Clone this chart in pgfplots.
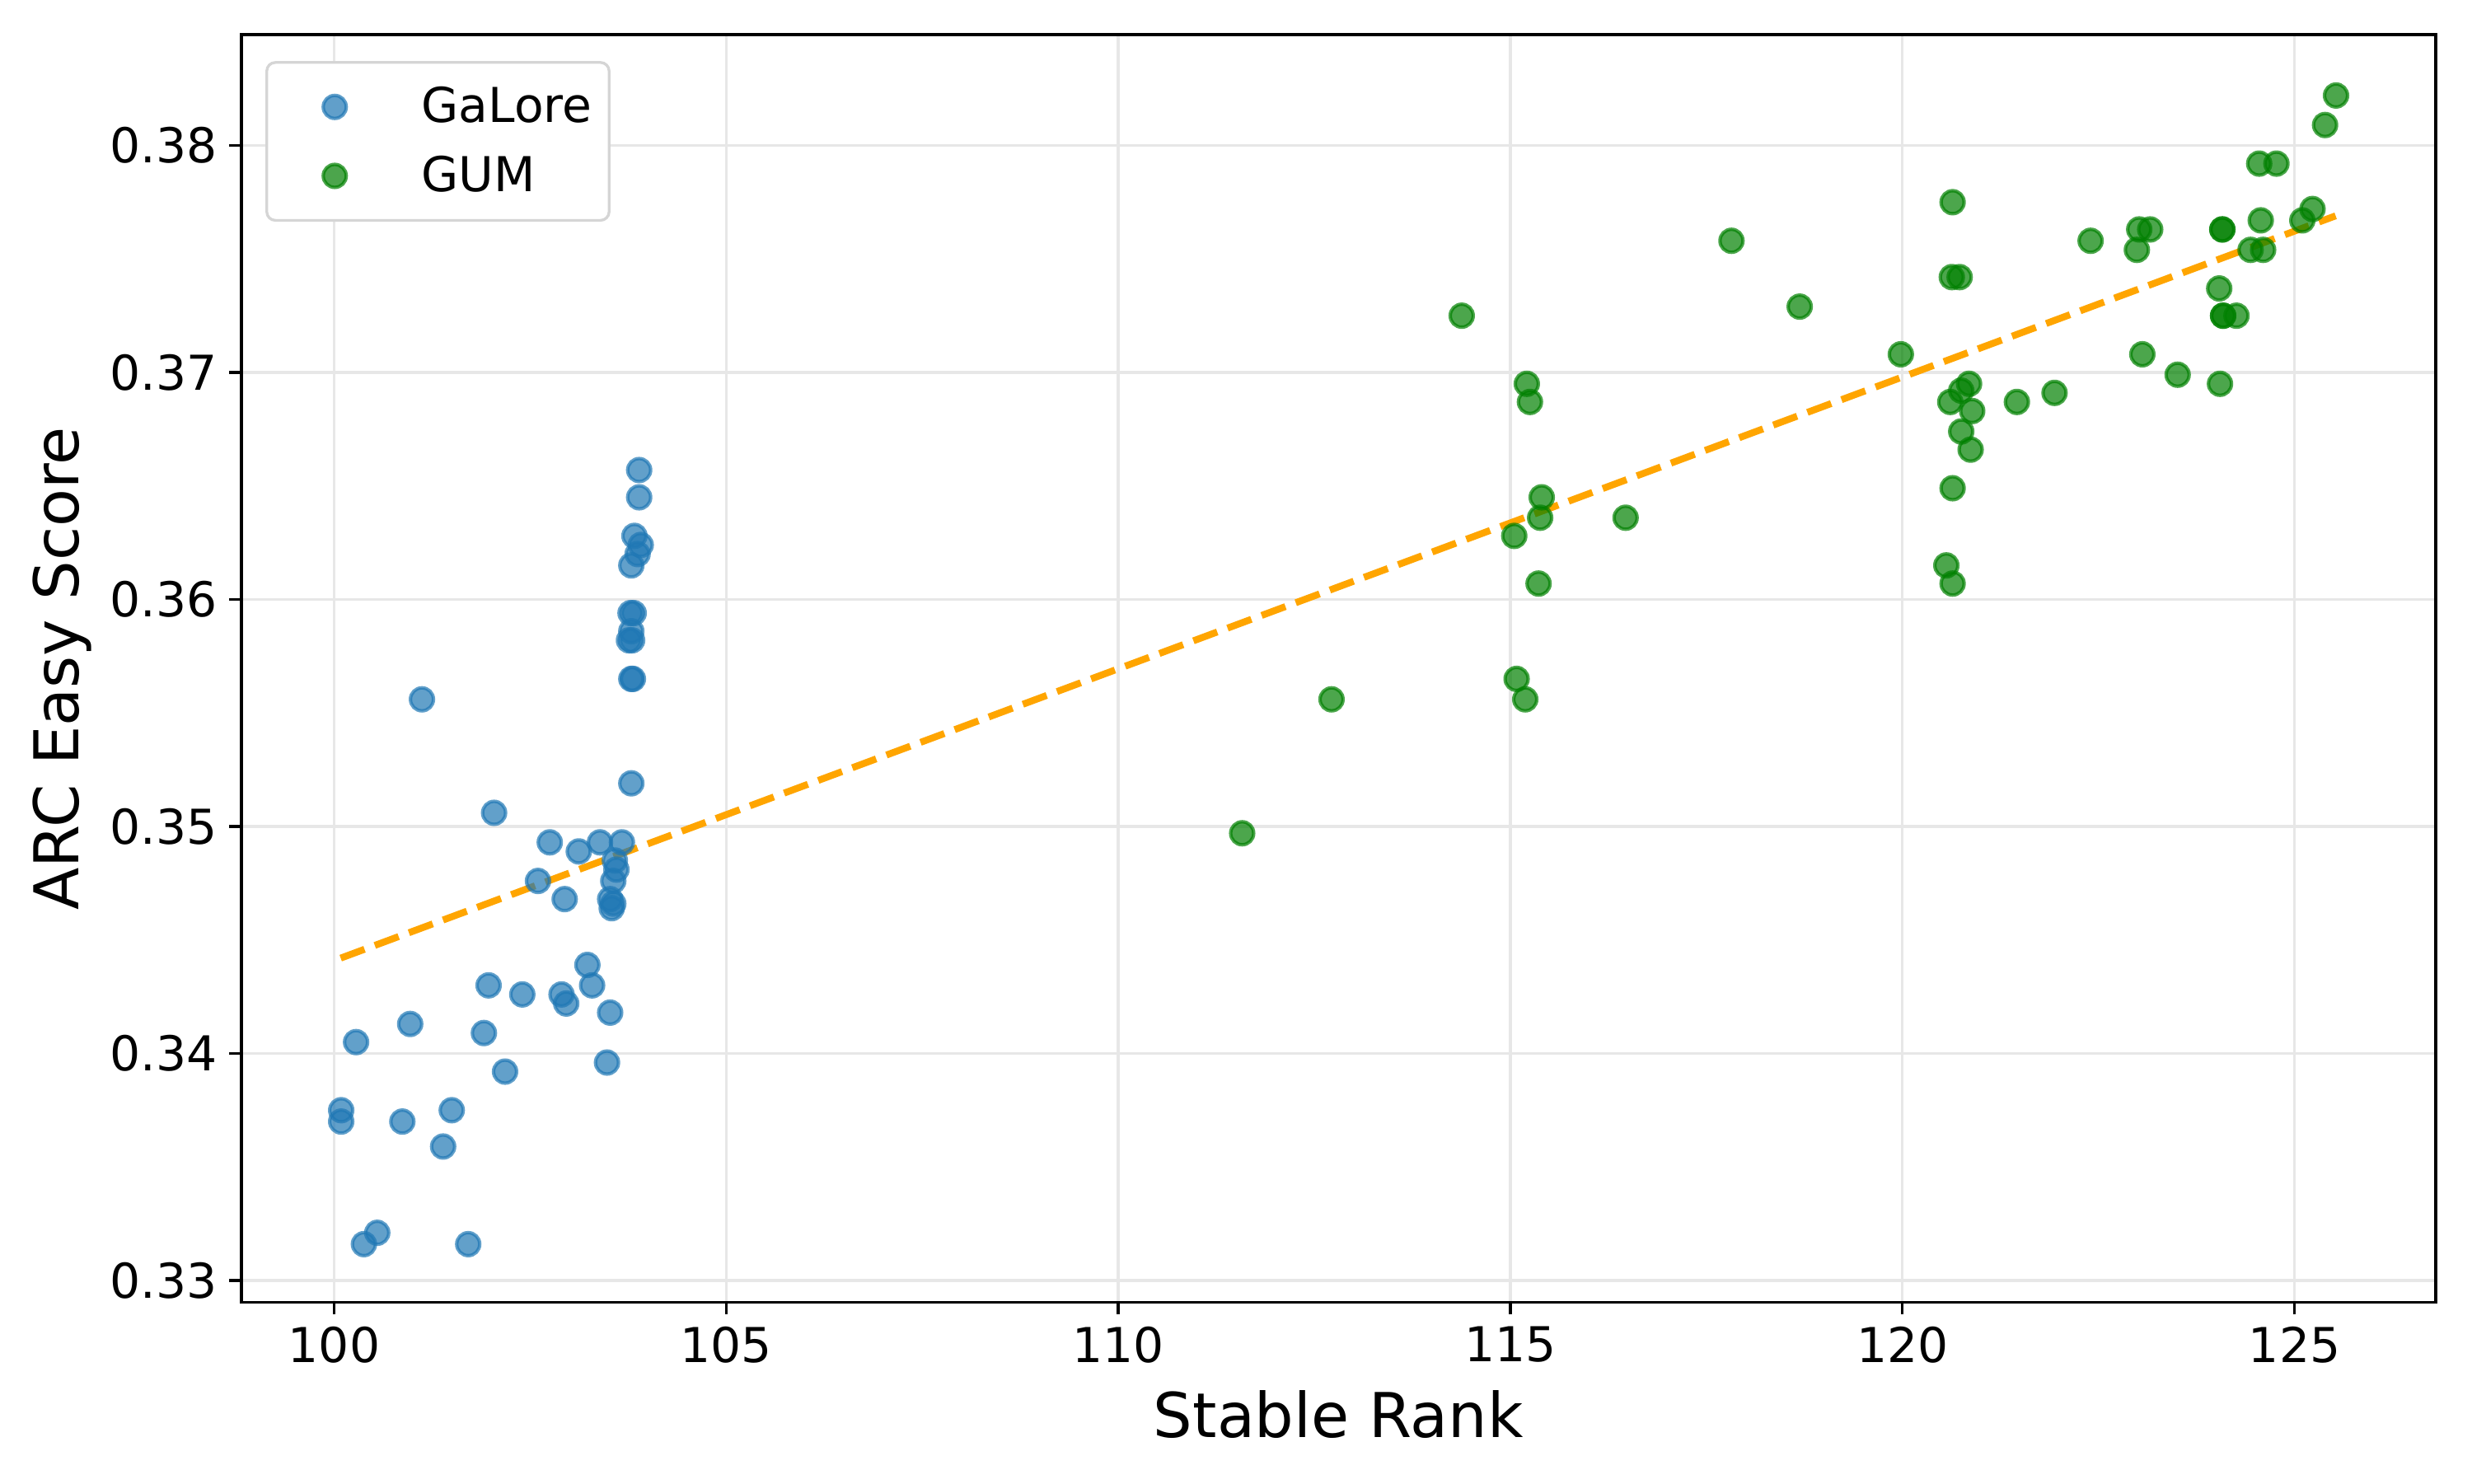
\documentclass[border=0pt]{standalone}
\usepackage{fontspec}
\setmainfont{DejaVu Sans}
\usepackage{pgfplots}
\pgfplotsset{compat=1.18}
\definecolor{tabblue}{HTML}{1F77B4}
\definecolor{mplgreen}{HTML}{008000}
\definecolor{mplorange}{HTML}{FFA500}
\definecolor{gridc}{HTML}{E7E7E7}
\definecolor{legc}{HTML}{D5D5D5}
\begin{document}
\begin{tikzpicture}
\useasboundingbox (-70.3pt,-52.7pt) rectangle (649.7pt,379.3pt);
\begin{axis}[
 scale only axis, width=639.1pt, height=369.2pt,
 xmin=98.817, xmax=126.80, ymin=0.32904, ymax=0.38488,
 xtick={100,105,110,115,120,125},
 ytick={0.33,0.34,0.35,0.36,0.37,0.38},
 yticklabel style={/pgf/number format/fixed, /pgf/number format/fixed zerofill, /pgf/number format/precision=2},
 /pgf/number format/assume math mode=true,
 tick label style={font=\fontsize{14}{16}\selectfont},
 xlabel={Stable Rank}, ylabel={ARC Easy Score},
 every axis x label/.style={at={(axis description cs:0.5,-0.0886)}, anchor=center, font=\fontsize{18}{21}\selectfont},
 every axis y label/.style={at={(axis description cs:-0.0815,0.5)}, anchor=center, rotate=90, font=\fontsize{18}{21}\selectfont},
 grid=major, major grid style={gridc, line width=0.8pt},
 axis line style={line width=0.8pt},
 tick style={black, line width=0.8pt}, major tick length=3.5pt, tick align=outside, tick pos=left,
 legend cell align=left,
 legend style={at={(0,1)}, anchor=north west, xshift=7pt, yshift=-7.7pt, draw=legc, line width=0.8pt, rounded corners=2.5pt, font=\fontsize{14}{17}\selectfont, inner xsep=2pt, inner ysep=5pt, row sep=4.2pt, nodes={inner xsep=3pt}},
 legend image code/.code={\path[draw=none] (0pt,0pt) -- (40.1pt,0pt); \path[#1, draw=none, fill=none] plot[only marks] coordinates {(17.8pt,0pt)};},
]
\addplot[only marks, mark=*, mark size=3.35pt, mark options={fill=tabblue, draw=tabblue, line width=1pt, opacity=0.7}] table {
103.89 0.3657
103.89 0.3645
103.83 0.3628
103.91 0.3624
103.87 0.3620
103.79 0.3615
103.78 0.3594
103.82 0.3594
103.79 0.3586
103.76 0.3582
103.80 0.3582
103.79 0.3565
103.81 0.3565
101.12 0.3556
103.79 0.3519
102.04 0.3506
102.75 0.3493
103.12 0.3489
103.39 0.3493
103.67 0.3493
103.58 0.3485
103.60 0.3481
103.56 0.3476
103.52 0.3468
103.54 0.3464
103.56 0.3466
102.60 0.3476
102.94 0.3468
103.23 0.3439
103.29 0.3430
101.97 0.3430
102.40 0.3426
102.90 0.3426
102.96 0.3422
103.52 0.3418
100.97 0.3413
100.28 0.3405
101.91 0.3409
102.18 0.3392
103.48 0.3396
100.09 0.3375
100.09 0.3370
100.87 0.3370
101.50 0.3375
101.39 0.3359
100.55 0.3321
100.38 0.3316
101.71 0.3316
};
\addlegendentry{GaLore}
\addplot[only marks, mark=*, mark size=3.35pt, mark options={fill=mplgreen, draw=mplgreen, line width=1pt, opacity=0.7}] table {
114.38 0.3725
118.69 0.3729
117.82 0.3758
115.21 0.3695
115.25 0.3687
115.40 0.3645
115.38 0.3636
115.05 0.3628
116.47 0.3636
115.36 0.3607
115.08 0.3565
115.19 0.3556
112.72 0.3556
111.58 0.3497
125.53 0.3822
125.39 0.3809
124.55 0.3792
124.77 0.3792
120.64 0.3775
125.23 0.3772
125.10 0.3767
124.57 0.3767
123.02 0.3763
123.16 0.3763
124.08 0.3763
124.08 0.3763
122.40 0.3758
122.99 0.3754
124.44 0.3754
124.60 0.3754
120.63 0.3742
120.73 0.3742
124.04 0.3737
124.09 0.3725
124.09 0.3725
124.26 0.3725
119.98 0.3708
123.06 0.3708
123.51 0.3699
124.05 0.3695
120.85 0.3695
120.75 0.3692
120.61 0.3687
120.89 0.3683
121.46 0.3687
121.94 0.3691
120.75 0.3674
120.87 0.3666
120.64 0.3649
120.56 0.3615
120.64 0.3607
};
\addlegendentry{GUM}
\addplot[forget plot, mplorange, line width=2pt, dash pattern=on 7.4pt off 3.2pt] coordinates {(100.084,0.3442) (125.525,0.3769)};
\end{axis}
\end{tikzpicture}
\end{document}
